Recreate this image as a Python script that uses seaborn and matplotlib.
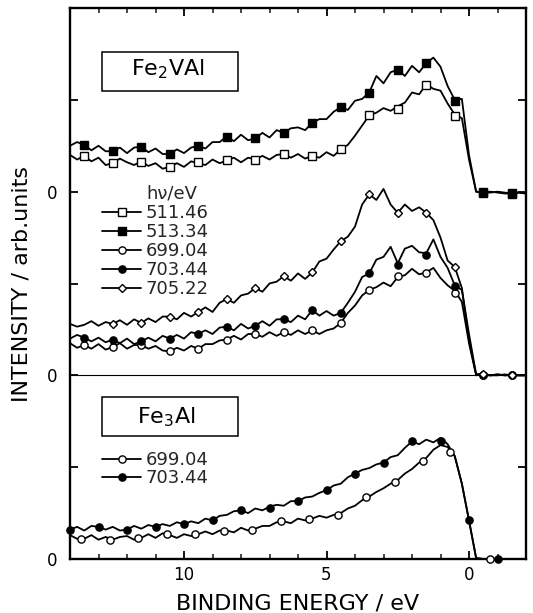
import numpy as np
import pandas as pd
import matplotlib
matplotlib.use("Agg")
import matplotlib.pyplot as plt
from matplotlib.lines import Line2D
from matplotlib.patches import Rectangle
import seaborn as sns

# ---------------- data ----------------
# binding-energy grid of the spectra (eV), 14 -> -2 in 0.25 eV steps
energy = np.arange(14.0, -2.001, -0.25)

# Fe2VAl, offset panel at 4
fe2val_511 = [4.40, 4.35, 4.39, 4.33, 4.37, 4.29, 4.31, 4.36, 4.32, 4.29, 4.33, 4.28, 4.31,
              4.25, 4.27, 4.31, 4.27, 4.33, 4.31, 4.29, 4.35, 4.31, 4.34, 4.37, 4.32, 4.37,
              4.35, 4.39, 4.35, 4.40, 4.41, 4.37, 4.41, 4.36, 4.39, 4.37, 4.43, 4.39, 4.46,
              4.51, 4.61, 4.72, 4.83, 4.86, 4.91, 4.88, 4.93, 4.97, 5.08, 5.06, 5.17, 5.12,
              5.10, 4.96, 4.84, 4.80, 4.35, 4.00, 3.99, 3.99, 4.00, 3.99, 3.98, 3.99, 3.98]
fe2val_513 = [4.50, 4.54, 4.51, 4.45, 4.50, 4.44, 4.44, 4.48, 4.42, 4.48, 4.49, 4.43, 4.47,
              4.41, 4.41, 4.46, 4.42, 4.48, 4.50, 4.47, 4.54, 4.54, 4.60, 4.55, 4.62, 4.56,
              4.58, 4.64, 4.59, 4.67, 4.64, 4.69, 4.70, 4.67, 4.75, 4.79, 4.79, 4.87, 4.92,
              4.89, 4.99, 5.01, 5.08, 5.26, 5.18, 5.30, 5.33, 5.26, 5.37, 5.30, 5.40, 5.46,
              5.36, 5.15, 5.00, 5.01, 4.40, 4.00, 3.99, 4.00, 3.99, 3.98, 3.98, 3.99, 3.98]

# Fe2VAl, offset panel at 2
fe2val_699 = [2.35, 2.30, 2.33, 2.29, 2.34, 2.28, 2.31, 2.35, 2.29, 2.33, 2.33, 2.29, 2.32,
              2.27, 2.26, 2.30, 2.27, 2.32, 2.29, 2.34, 2.34, 2.38, 2.39, 2.43, 2.39, 2.45,
              2.45, 2.42, 2.47, 2.43, 2.47, 2.44, 2.49, 2.45, 2.49, 2.45, 2.49, 2.51, 2.57,
              2.68, 2.76, 2.87, 2.93, 2.96, 3.01, 2.97, 3.07, 3.09, 3.16, 3.10, 3.12, 3.17,
              3.06, 2.98, 2.92, 2.80, 2.35, 2.00, 2.01, 2.00, 2.00, 2.01, 2.00, 2.00, 2.00]
fe2val_703 = [2.40, 2.44, 2.41, 2.37, 2.41, 2.36, 2.39, 2.35, 2.40, 2.34, 2.37, 2.41, 2.37,
              2.43, 2.40, 2.44, 2.40, 2.47, 2.45, 2.49, 2.45, 2.52, 2.53, 2.49, 2.56, 2.51,
              2.54, 2.59, 2.54, 2.61, 2.61, 2.58, 2.65, 2.61, 2.71, 2.65, 2.70, 2.65, 2.68,
              2.79, 2.91, 3.07, 3.11, 3.26, 3.29, 3.40, 3.22, 3.38, 3.41, 3.34, 3.33, 3.48,
              3.29, 3.17, 2.98, 2.93, 2.45, 2.01, 2.00, 2.00, 2.01, 2.00, 2.00, 2.00, 2.00]
fe2val_705 = [2.56, 2.53, 2.55, 2.59, 2.54, 2.58, 2.56, 2.60, 2.55, 2.61, 2.57, 2.62, 2.58,
              2.64, 2.64, 2.61, 2.68, 2.64, 2.69, 2.74, 2.69, 2.79, 2.83, 2.79, 2.87, 2.89,
              2.95, 2.91, 3.00, 3.02, 3.08, 3.03, 3.11, 3.05, 3.12, 3.24, 3.27, 3.37, 3.46,
              3.51, 3.62, 3.86, 3.97, 3.91, 4.03, 3.86, 3.77, 3.86, 3.79, 3.83, 3.77, 3.69,
              3.50, 3.25, 3.18, 2.95, 2.38, 2.01, 2.02, 2.00, 2.01, 2.00, 2.01, 2.00, 2.00]

# Fe3Al, panel at 0
fe3al_699 = [0.26, 0.22, 0.22, 0.26, 0.21, 0.24, 0.21, 0.24, 0.25, 0.21, 0.23, 0.27, 0.23,
             0.28, 0.26, 0.23, 0.27, 0.25, 0.27, 0.30, 0.27, 0.31, 0.31, 0.29, 0.34, 0.31,
             0.33, 0.36, 0.36, 0.40, 0.41, 0.39, 0.44, 0.42, 0.44, 0.47, 0.45, 0.48, 0.50,
             0.55, 0.58, 0.64, 0.68, 0.73, 0.77, 0.82, 0.86, 0.93, 0.98, 1.05, 1.10, 1.19,
             1.24, 1.22, 1.12, 0.82, 0.42, 0.01, 0.00, 0.00, 0.00, 0.00, 0.00, 0.00, 0.00]
fe3al_703 = [0.32, 0.35, 0.31, 0.36, 0.35, 0.32, 0.35, 0.31, 0.32, 0.36, 0.33, 0.37, 0.35,
             0.38, 0.36, 0.40, 0.38, 0.41, 0.39, 0.44, 0.42, 0.47, 0.48, 0.52, 0.53, 0.50,
             0.55, 0.53, 0.57, 0.59, 0.58, 0.63, 0.63, 0.67, 0.68, 0.72, 0.75, 0.80, 0.82,
             0.89, 0.93, 0.97, 0.99, 1.03, 1.05, 1.11, 1.13, 1.21, 1.28, 1.25, 1.30, 1.27,
             1.32, 1.25, 1.12, 0.82, 0.42, 0.01, 0.00, 0.00, 0.00, 0.00, 0.00, 0.00, 0.00]

# symbol positions (eV) and heights
mk_half = [13.5, 12.5, 11.5, 10.5, 9.5, 8.5, 7.5, 6.5, 5.5, 4.5, 3.5, 2.5, 1.5, 0.5, -0.5, -1.5]
mk_511 = [4.39, 4.31, 4.32, 4.27, 4.32, 4.34, 4.35, 4.41, 4.39, 4.46, 4.83, 4.90, 5.16, 4.82, 4.00, 3.99]
mk_513 = [4.51, 4.44, 4.49, 4.41, 4.50, 4.60, 4.58, 4.64, 4.75, 4.92, 5.07, 5.33, 5.40, 4.99, 3.99, 3.98]
mk_699m = [2.33, 2.31, 2.33, 2.26, 2.29, 2.39, 2.45, 2.47, 2.49, 2.57, 2.93, 3.08, 3.11, 2.90, 2.00, 2.00]
mk_703m = [2.41, 2.39, 2.37, 2.40, 2.45, 2.53, 2.54, 2.61, 2.71, 2.68, 3.11, 3.20, 3.31, 2.97, 2.00, 2.00]
mk_705_e = [12.5, 11.5, 10.5, 9.5, 8.5, 7.5, 6.5, 5.5, 4.5, 3.5, 2.5, 1.5, 0.5, -0.5, -1.5]
mk_705 = [2.56, 2.57, 2.64, 2.69, 2.83, 2.95, 3.08, 3.12, 3.46, 3.97, 3.77, 3.77, 3.18, 2.01, 2.00]
mk_fe3_703_e = [14, 13, 12, 11, 10, 9, 8, 7, 6, 5, 4, 3, 2, 1, 0, -1]
mk_fe3_703 = [0.32, 0.35, 0.32, 0.35, 0.38, 0.42, 0.53, 0.55, 0.63, 0.75, 0.93, 1.05, 1.29, 1.28, 0.42, 0.00]
mk_fe3_699_e = [13.6, 12.6, 11.6, 10.6, 9.6, 8.6, 7.6, 6.6, 5.6, 4.6, 3.6, 2.6, 1.6, 0.65, -0.75]
mk_fe3_699 = [0.22, 0.21, 0.23, 0.27, 0.27, 0.31, 0.32, 0.41, 0.44, 0.48, 0.67, 0.84, 1.07, 1.17, 0.00]

legend_fe2 = ["511.46", "513.34", "699.04", "703.44", "705.22"]
legend_fe3 = ["699.04", "703.44"]
x_ticks = [10, 5, 0]
y_ticks = [0, 1, 2, 3, 4, 5]
y_ticklabels = ["0", "", "0", "", "0", ""]

# ---------------- styling ----------------
sns.set_theme(style="ticks")
plt.rcParams["font.family"] = ["DejaVu Sans"]
plt.rcParams["mathtext.fontset"] = "dejavusans"

fig = plt.figure(figsize=(5.33, 6.13), dpi=100)
ax = fig.add_axes([70 / 533, 1 - 559 / 613, 456 / 533, 551 / 613])

LW = 1.3
MS = 5.2
open_kw = dict(color="black", markerfacecolor="white", markeredgecolor="black", markeredgewidth=1.0)
fill_kw = dict(color="black", markerfacecolor="black", markeredgecolor="black", markeredgewidth=1.0)

series = [
    (fe2val_511, mk_half, mk_511, "s", open_kw),
    (fe2val_513, mk_half, mk_513, "s", fill_kw),
    (fe2val_699, mk_half, mk_699m, "o", open_kw),
    (fe2val_703, mk_half, mk_703m, "o", fill_kw),
    (fe2val_705, mk_705_e, mk_705, "D", open_kw),
    (fe3al_699, mk_fe3_699_e, mk_fe3_699, "o", open_kw),
    (fe3al_703, mk_fe3_703_e, mk_fe3_703, "o", fill_kw),
]

ax.axhline(2.0, color="black", lw=0.8, zorder=1)

for vals, me, mv, mk, kw in series:
    assert len(vals) == len(energy)
    df = pd.DataFrame({"E": energy, "I": vals})
    sns.lineplot(data=df, x="E", y="I", ax=ax, color="black", lw=LW, sort=False, zorder=2)
    ms = MS * 0.85 if mk == "D" else MS
    ax.plot(me, mv, linestyle="none", marker=mk, markersize=ms, zorder=3, clip_on=False, **kw)

ax.set_xlim(14, -2)
ax.set_ylim(0, 6)
ax.set_xticks(x_ticks)
ax.set_xticks(np.arange(-2, 15, 1), minor=True)
ax.set_yticks(y_ticks)
ax.set_yticklabels(y_ticklabels)
ax.tick_params(axis="both", which="major", direction="in", length=6, width=1.3,
               top=True, right=True, labelsize=12, color="black", labelcolor="black")
ax.tick_params(axis="x", which="major", pad=5)
ax.tick_params(axis="y", which="major", pad=9)
ax.tick_params(axis="x", which="minor", direction="in", length=3.5, width=1.2, top=True)
for s in ax.spines.values():
    s.set_linewidth(1.7)
    s.set_color("black")

ax.set_xlabel("BINDING ENERGY / eV", fontsize=16, labelpad=7, color="black")
ax.set_ylabel("INTENSITY / arb.units", fontsize=16, labelpad=11, color="black")

# sample labels in boxes
for (x0, y0, x1, y1), tx, ty, txt in [
    ((0.0702, 0.849, 0.368, 0.920), 0.214, 0.878, "Fe$_2$VAl"),
    ((0.0691, 0.223, 0.368, 0.294), 0.212, 0.246, "Fe$_3$Al"),
]:
    ax.add_patch(Rectangle((x0, y0), x1 - x0, y1 - y0, transform=ax.transAxes,
                           fill=False, lw=1.1, edgecolor="black", zorder=4))
    ax.text(tx, ty, txt, transform=ax.transAxes, ha="center", va="baseline",
            fontsize=16, color="black")

# legends
def handle(mk, kw):
    ms = MS * 0.85 if mk == "D" else MS
    return Line2D([], [], lw=LW, marker=mk, markersize=ms, **kw)

blank = Line2D([], [], lw=0, marker=None, color="none")
h_fe2 = [blank, handle("s", open_kw), handle("s", fill_kw), handle("o", open_kw),
         handle("o", fill_kw), handle("D", open_kw)]
leg1 = ax.legend(h_fe2, ["h\u03bd/eV"] + legend_fe2, loc="upper left",
                 bbox_to_anchor=(0.0695, 0.679), frameon=False, fontsize=13,
                 handlelength=2.2, handletextpad=0.25, labelspacing=0.06,
                 borderpad=0, borderaxespad=0)
ax.add_artist(leg1)
h_fe3 = [handle("o", open_kw), handle("o", fill_kw)]
ax.legend(h_fe3, legend_fe3, loc="upper left", bbox_to_anchor=(0.0695, 0.196),
          frameon=False, fontsize=13, handlelength=2.2, handletextpad=0.25,
          labelspacing=0.0, borderpad=0, borderaxespad=0)

fig.savefig("out.png", dpi=100)
